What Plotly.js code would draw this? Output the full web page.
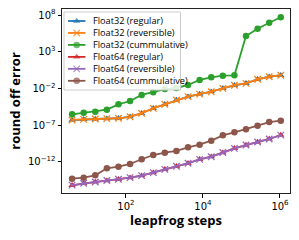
<!DOCTYPE html>
<html>
<head>
<meta charset="utf-8">
<script src="https://cdn.plot.ly/plotly-3.0.1.min.js"></script>
<style>html,body{margin:0;padding:0;background:#fff}#chart{width:299px;height:240px}</style>
</head>
<body>
<div id="chart"></div>
<script>
// leapfrog steps: 2^2 ... 2^20
const steps = [4, 8, 16, 32, 64, 128, 256, 512, 1024, 2048, 4096, 8192, 16384, 32768, 65536, 131072, 262144, 524288, 1048576];

// log10 of round-off error
const f32RegularLog = [-6.29, -6.19, -6.15, -6.11, -6.05, -5.84, -5.37, -4.69, -4.15, -3.56, -3.12, -2.75, -2.44, -1.97, -1.56, -1.29, -0.75, -0.39, -0.2];
const f32ReversibleLog = [-6.28, -6.2, -6.14, -6.1, -6.05, -5.85, -5.36, -4.7, -4.14, -3.57, -3.11, -2.76, -2.43, -1.98, -1.55, -1.3, -0.74, -0.4, -0.19];
const f32CumulativeLog = [-5.51, -5.29, -5.16, -4.88, -4.15, -3.7, -2.88, -2.52, -2.07, -1.93, -1.52, -0.84, -0.48, -0.26, -0.2, 5.14, 6.14, 6.95, 7.69];
const f64RegularLog = [-15.17, -14.9, -14.72, -14.54, -14.35, -14.14, -13.86, -13.46, -12.99, -12.58, -12.18, -11.63, -11.28, -10.73, -10.14, -9.69, -9.28, -8.87, -8.33];
const f64ReversibleLog = [-15.15, -14.9, -14.73, -14.53, -14.35, -14.13, -13.86, -13.45, -13.0, -12.58, -12.17, -11.64, -11.28, -10.72, -10.15, -9.69, -9.27, -8.87, -8.34];
const f64CumulativeLog = [-14.27, -14.14, -13.81, -12.86, -12.64, -12.27, -11.63, -11.05, -10.73, -10.5, -10.0, -9.65, -9.1, -8.37, -7.96, -7.55, -7.06, -6.56, -6.38];

const seriesNames = ["Float32 (regular)", "Float32 (reversible)", "Float32 (cummulative)", "Float64 (regular)", "Float64 (reversible)", "Float64 (cummulative)"];
const yTickVals = [1e-12, 1e-7, 1e-2, 1e3, 1e8];
const yTickText = ["10<sup>\u221212</sup>", "10<sup>\u22127</sup>", "10<sup>\u22122</sup>", "10<sup>3</sup>", "10<sup>8</sup>"];
const xTickVals = [1e2, 1e4, 1e6];
const xTickText = ["10<sup>2</sup>", "10<sup>4</sup>", "10<sup>6</sup>"];

const colors = ["#1f77b4", "#ff7f0e", "#2ca02c", "#d62728", "#9467bd", "#8c564b"];
const symbols = ["triangle-up", "x-thin-open", "circle", "triangle-up", "x-thin-open", "circle"];
const data = [f32RegularLog, f32ReversibleLog, f32CumulativeLog, f64RegularLog, f64ReversibleLog, f64CumulativeLog];

// plot area in pixels
const W = 299, H = 240, L = 62, R = 290, T = 9, B = 193;

const toVal = a => a.map(v => Math.pow(10, v));
const markerFor = i => ({
  symbol: symbols[i], color: colors[i], size: 6.5,
  line: {color: colors[i], width: symbols[i] === "x-thin-open" ? 1.3 : 0}
});

const traces = data.map((d, i) => ({
  x: steps, y: toVal(d), name: seriesNames[i], type: "scatter", mode: "lines+markers",
  line: {color: colors[i], width: 1.8}, marker: markerFor(i), showlegend: false
}));

// custom compact legend (pixel coordinates on an overlay axis)
const legFont = 9.2, rowGap = legFont * 1.3;
const legX0 = 64, legX1 = 180.5, legY0 = 12, legY1 = 90;
const firstRow = 21;
const rowY = seriesNames.map((_, i) => firstRow + i * rowGap);
const sampleX = [68, 76.7, 85.4];
const textX = 92;
traces.push({
  x: [legX0, legX1, legX1, legX0, legX0], y: [legY0, legY0, legY1, legY1, legY0],
  xaxis: "x2", yaxis: "y2", type: "scatter", mode: "lines", fill: "toself",
  fillcolor: "rgba(255,255,255,0.85)", line: {color: "#cccccc", width: 1}, showlegend: false
});
seriesNames.forEach((name, i) => {
  traces.push({
    x: sampleX, y: [rowY[i], rowY[i], rowY[i]], xaxis: "x2", yaxis: "y2",
    type: "scatter", mode: "lines+markers", showlegend: false,
    line: {color: colors[i], width: 1.8},
    marker: Object.assign(markerFor(i), {size: [0, 6.5, 0]})
  });
});
const annotations = [{
  xref: "x2", yref: "y2", x: textX, y: (rowY[0] + rowY[rowY.length - 1]) / 2,
  text: seriesNames.join("<br>"), showarrow: false, align: "left",
  xanchor: "left", yanchor: "middle", borderpad: 0,
  font: {family: "Open Sans", size: legFont, color: "#000"}
}];

const layout = {
  width: W, height: H,
  margin: {l: L, r: W - R, t: T, b: H - B},
  paper_bgcolor: "#fff", plot_bgcolor: "#fff",
  showlegend: false,
  xaxis: {type: "log", range: [0.34, 6.26], tickvals: xTickVals, ticktext: xTickText,
          ticks: "outside", ticklen: 3.5, tickwidth: 1, tickcolor: "#000",
          showline: true, linecolor: "#222", linewidth: 1, mirror: true, showgrid: false, zeroline: false,
          tickfont: {family: "DejaVu Sans", size: 10, color: "#000"},
          title: {text: "<b>leapfrog steps</b>", font: {family: "Open Sans", size: 13, color: "#000"}, standoff: 4}},
  yaxis: {type: "log", range: [-16.22, 8.82], tickvals: yTickVals, ticktext: yTickText,
          ticks: "outside", ticklen: 3.5, tickwidth: 1, tickcolor: "#000",
          showline: true, linecolor: "#222", linewidth: 1, mirror: true, showgrid: false, zeroline: false,
          tickfont: {family: "DejaVu Sans", size: 10, color: "#000"},
          title: {text: "<b>round off error</b>", font: {family: "Open Sans", size: 13, color: "#000"}, standoff: 4}},
  xaxis2: {overlaying: "x", range: [L, R], visible: false, fixedrange: true},
  yaxis2: {overlaying: "y", range: [B, T], visible: false, fixedrange: true},
  annotations: annotations
};

Plotly.newPlot("chart", traces, layout, {staticPlot: true, displayModeBar: false});
</script>
</body>
</html>
